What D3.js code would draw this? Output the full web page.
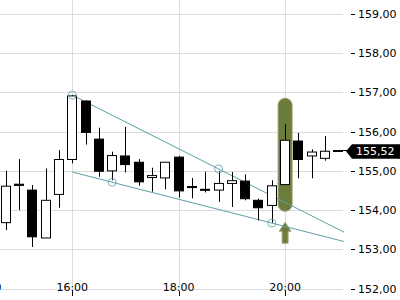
<!DOCTYPE html>
<html><head><meta charset="utf-8">
<script src="https://cdn.jsdelivr.net/npm/d3@7"></script>
<style>html,body{margin:0;padding:0;background:#fff;overflow:hidden}svg{display:block;font-family:"DejaVu Sans",sans-serif}</style>
</head><body>
<svg id="chart" width="400" height="300"></svg>
<script>
const times = ["14:45","15:00","15:15","15:30","15:45","16:00","16:15","16:30","16:45","17:00","17:15","17:30","17:45","18:00","18:15","18:30","18:45","19:00","19:15","19:30","19:45","20:00","20:15","20:30","20:45","21:00"];
const open  = [153.68,154.66,154.51,153.29,154.40,155.29,156.78,155.81,155.00,155.38,155.22,154.83,154.82,155.35,154.60,154.53,154.51,154.68,154.74,154.25,154.12,154.65,155.76,155.38,155.32,155.52];
const high  = [155.00,155.30,154.64,155.06,155.53,156.92,156.80,156.10,155.49,156.12,155.30,155.08,155.22,155.38,154.82,154.98,154.99,154.97,154.91,154.29,154.76,156.19,155.97,155.55,155.89,155.52];
const low   = [153.49,154.00,153.06,153.29,154.06,155.19,155.67,154.85,154.76,154.96,154.62,154.47,154.53,154.32,154.30,154.45,154.21,154.08,154.25,153.74,153.68,154.65,154.81,154.81,155.26,155.52];
const close = [154.61,154.63,153.32,154.25,155.29,156.91,155.98,154.99,155.39,155.16,154.72,154.88,155.22,154.49,154.58,154.51,154.68,154.75,154.29,154.06,154.62,155.78,155.29,155.48,155.50,155.52];
const timeTicks = ["14:00","16:00","18:00","20:00"];
const priceTicks = [152,153,154,155,156,157,158,159];
const upperTrend = [["16:00",156.93],["18:45",155.05]];
const lowerTrend = [["16:45",154.71],["19:45",153.67]];
const trendStart = "16:00";
const highlightTime = "20:00";
const highlightRange = [153.97, 156.85];
const arrowPrice = 153.69;

const parseT = d3.timeParse("%H:%M");
const parseTS = d3.timeParse("%H:%M:%S");
const svg = d3.select("#chart");
const W = 344, H = 289;
const x = d3.scaleTime().domain([parseTS("14:38:30"), parseTS("21:06:25")]).range([0, W]);
const y = d3.scaleLinear().domain([152, 159]).range([288.6, 13.9]);
const loc = d3.formatLocale({decimal: ",", thousands: ".", grouping: [3], currency: ["", ""]});
const fmt = loc.format(".2f");
const tfmt = d3.timeFormat("%H:%M");
const grid = "#dcdcdc";
const teal = "#5d9fa9";
const olive = "#6c7c3b";

// grid
svg.append("g").selectAll("line").data(priceTicks).join("line")
  .attr("x1", 0).attr("x2", W - 1)
  .attr("y1", d => Math.round(y(d)) + 0.5).attr("y2", d => Math.round(y(d)) + 0.5)
  .attr("stroke", grid);
const tt = timeTicks.map(parseT);
svg.append("g").selectAll("line").data(tt.filter(d => x(d) >= 0)).join("line")
  .attr("x1", d => Math.round(x(d)) + 0.5).attr("x2", d => Math.round(x(d)) + 0.5)
  .attr("y1", 0).attr("y2", H)
  .attr("stroke", grid);

// highlight
const hx = x(parseT(highlightTime));
svg.append("rect")
  .attr("x", hx - 7).attr("width", 14)
  .attr("y", y(highlightRange[1])).attr("height", y(highlightRange[0]) - y(highlightRange[1]))
  .attr("rx", 7).attr("ry", 7)
  .attr("fill", olive).attr("stroke", "#97a270").attr("stroke-width", 1);
// arrow
const ay = y(arrowPrice);
svg.append("path")
  .attr("d", `M${hx},${ay} L${hx+6},${ay+9} L${hx+3},${ay+9} L${hx+3},${ay+21} L${hx-3},${ay+21} L${hx-3},${ay+9} L${hx-6},${ay+9} Z`)
  .attr("fill", olive).attr("stroke", "#a3ad80").attr("stroke-width", 1);

// trendlines
const endT = x.domain()[1];
function priceAt(tr, t) {
  const t0 = parseT(tr[0][0]), t1 = parseT(tr[1][0]);
  return tr[0][1] + (tr[1][1] - tr[0][1]) * (t - t0) / (t1 - t0);
}
[upperTrend, lowerTrend].forEach(tr => {
  const s = parseT(trendStart);
  svg.append("line")
    .attr("x1", x(s)).attr("y1", y(priceAt(tr, s)))
    .attr("x2", x(endT)).attr("y2", y(priceAt(tr, endT)))
    .attr("stroke", teal).attr("stroke-width", 1);
});

// candles
const data = times.map((t, i) => ({t: parseT(t), o: open[i], h: high[i], l: low[i], c: close[i]}));
const cg = svg.append("g");
data.forEach(d => {
  const cx = Math.round(x(d.t));
  const up = d.c >= d.o;
  if (d.h > d.l) {
    cg.append("line").attr("x1", cx + 0.5).attr("x2", cx + 0.5)
      .attr("y1", y(d.h)).attr("y2", y(d.l)).attr("stroke", "#000").attr("stroke-width", 1);
  }
  const top = y(Math.max(d.o, d.c)), bot = y(Math.min(d.o, d.c));
  cg.append("rect").attr("x", cx - 4.5).attr("width", 9)
    .attr("y", top).attr("height", Math.max(bot - top, 1))
    .attr("fill", up ? "#fff" : "#000").attr("stroke", "#000").attr("stroke-width", 1);
});

// anchor circles
[upperTrend, lowerTrend].forEach(tr => tr.forEach(p => {
  svg.append("circle").attr("cx", x(parseT(p[0]))).attr("cy", y(p[1])).attr("r", 4)
    .attr("fill", "none").attr("stroke", teal).attr("stroke-opacity", 0.8);
}));

// bottom axis
const bx = svg.append("g");
tt.forEach(d => {
  const px = x(d);
  if (px >= 0) {
    bx.append("line").attr("x1", Math.round(px) + 0.5).attr("x2", Math.round(px) + 0.5)
      .attr("y1", 291).attr("y2", 296).attr("stroke", "#000");
    bx.append("text").attr("x", px).attr("y", 290.5).attr("text-anchor", "middle")
      .attr("font-size", 11).attr("fill", "#000").text(tfmt(d));
  } else {
    bx.append("text").attr("x", 1.5).attr("y", 290.5).attr("text-anchor", "end")
      .attr("font-size", 11).attr("fill", "#000").text(tfmt(d));
  }
});

// right axis
const ra = svg.append("g");
priceTicks.forEach(p => {
  const py = Math.round(y(p)) + 0.5;
  ra.append("line").attr("x1", 351).attr("x2", 355).attr("y1", py).attr("y2", py).attr("stroke", "#000");
  ra.append("text").attr("x", 358).attr("y", py).attr("dy", "0.36em")
    .attr("font-size", 11).attr("fill", "#000").text(fmt(p));
});

// last price label
const last = close[close.length - 1];
const ly = y(last) + 0.8;
svg.append("line").attr("x1", W - 1).attr("x2", 347).attr("y1", Math.round(ly) - 0.5).attr("y2", Math.round(ly) - 0.5).attr("stroke", "#000");
svg.append("path")
  .attr("d", `M346,${ly} L352,${ly-7} L402,${ly-7} L402,${ly+7.5} L352,${ly+7.5} Z`)
  .attr("fill", "#000");
svg.append("text").attr("x", 356).attr("y", ly).attr("dy", "0.36em")
  .attr("font-size", 11).attr("fill", "#fff").text(fmt(last));
</script>
</body></html>
